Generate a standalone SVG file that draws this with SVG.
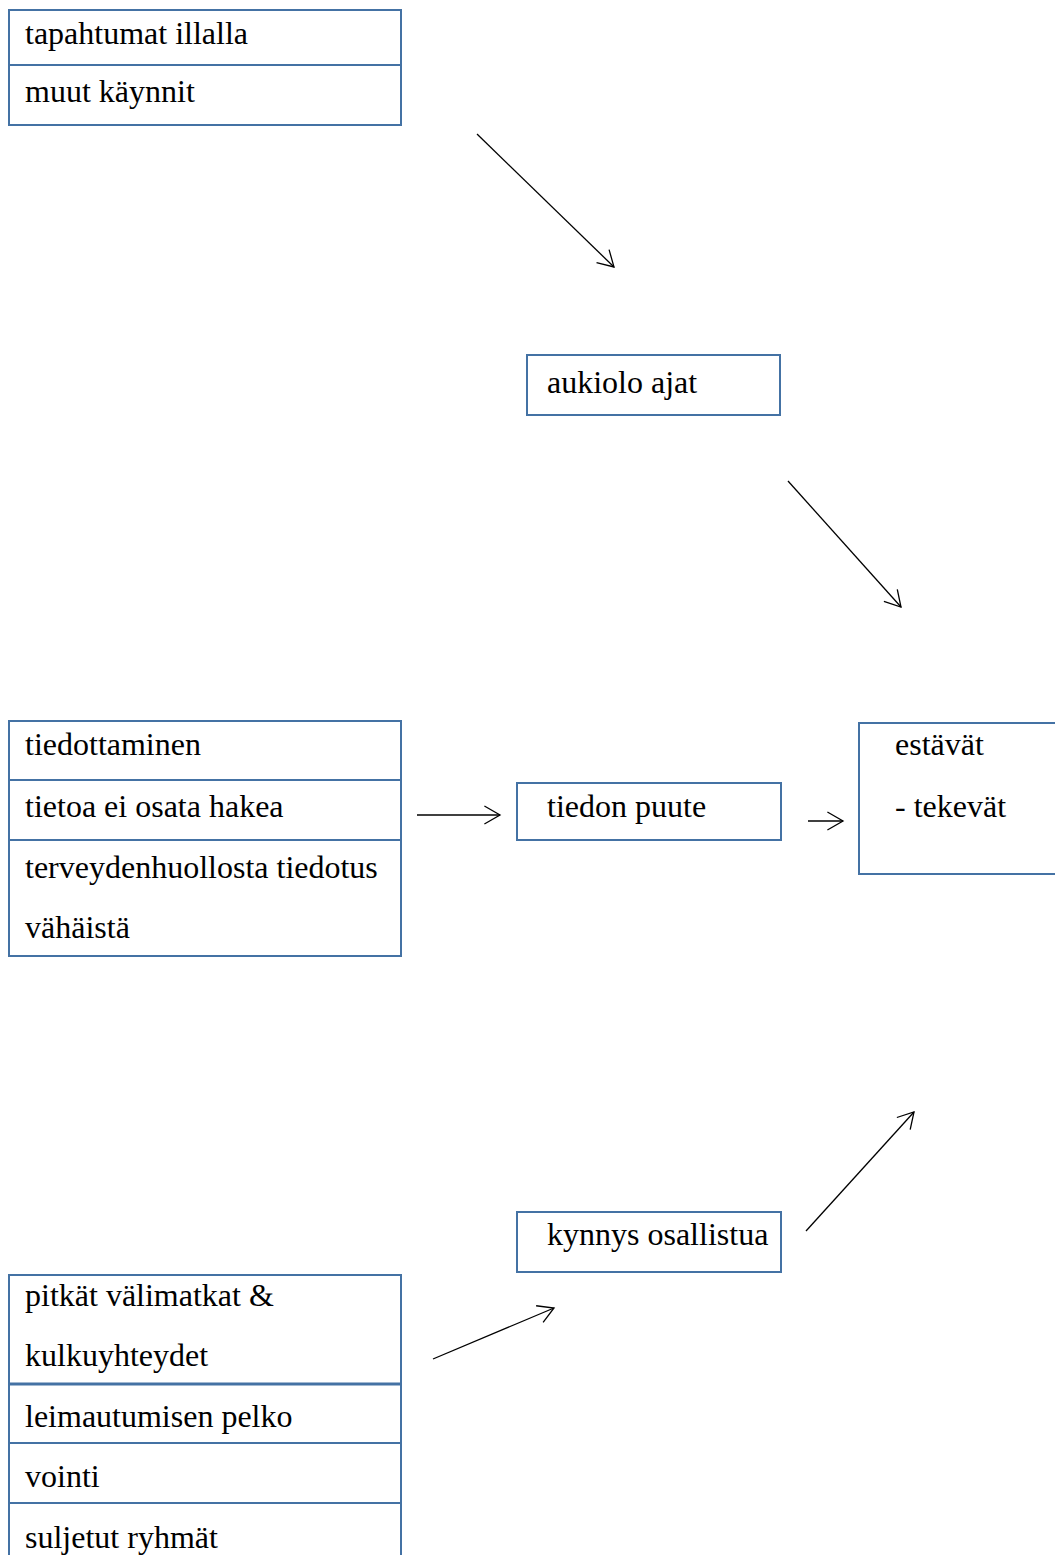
<svg xmlns="http://www.w3.org/2000/svg" width="1055" height="1555" viewBox="0 0 1055 1555">
<style>
.box{fill:#fff;stroke:#4472a4;stroke-width:2}
.div{stroke:#4472a4;stroke-width:2}
.t{font-family:"Liberation Serif","Times New Roman",serif;font-size:32px;fill:#000}
.c{stroke:#000;stroke-width:1.3;fill:none;marker-end:url(#ah)}
</style>
<defs>
<marker id="ah" markerUnits="userSpaceOnUse" viewBox="-18 -10 20 20" refX="0" refY="0" markerWidth="20" markerHeight="20" orient="auto">
<path d="M-15.6,-9 L0,0 L-15.6,9" fill="none" stroke="#000" stroke-width="1.3"/>
</marker>
</defs>
<rect width="1055" height="1555" fill="#fff"/>
<g id="n-top">
<rect class="box" x="9" y="10" width="392" height="115"/>
<line class="div" x1="9" y1="65" x2="401" y2="65"/>
<text class="t" x="25" y="44">tapahtumat illalla</text>
<text class="t" x="25" y="102">muut käynnit</text>
</g>
<g id="n-aukiolo">
<rect class="box" x="527" y="355" width="253" height="60"/>
<text class="t" x="547" y="393">aukiolo ajat</text>
</g>
<g id="n-tiedotus">
<rect class="box" x="9" y="721" width="392" height="235"/>
<line class="div" x1="9" y1="780" x2="401" y2="780"/>
<line class="div" x1="9" y1="840" x2="401" y2="840"/>
<text class="t" x="25" y="755">tiedottaminen</text>
<text class="t" x="25" y="817">tietoa ei osata hakea</text>
<text class="t" x="25" y="878">terveydenhuollosta tiedotus</text>
<text class="t" x="25" y="938">vähäistä</text>
</g>
<g id="n-tiedon-puute">
<rect class="box" x="517" y="783" width="264" height="57"/>
<text class="t" x="547" y="817">tiedon puute</text>
</g>
<g id="n-estavat">
<rect class="box" x="859" y="723" width="210" height="151"/>
<text class="t" x="895" y="755">estävät</text>
<text class="t" x="895" y="817">- tekevät</text>
</g>
<g id="n-kynnys">
<rect class="box" x="517" y="1212" width="264" height="60"/>
<text class="t" x="547" y="1245">kynnys osallistua</text>
</g>
<g id="n-bottom">
<rect class="box" x="9" y="1275" width="392" height="300"/>
<line class="div" x1="9" y1="1384" x2="401" y2="1384" style="stroke-width:3"/>
<line class="div" x1="9" y1="1443" x2="401" y2="1443"/>
<line class="div" x1="9" y1="1503" x2="401" y2="1503"/>
<text class="t" x="25" y="1306">pitkät välimatkat &amp;</text>
<text class="t" x="25" y="1366">kulkuyhteydet</text>
<text class="t" x="25" y="1427">leimautumisen pelko</text>
<text class="t" x="25" y="1487">vointi</text>
<text class="t" x="25" y="1548">suljetut ryhmät</text>
</g>
<g id="connectors">
<line class="c" x1="477" y1="134" x2="614" y2="267"/>
<line class="c" x1="788" y1="481" x2="901" y2="607"/>
<line class="c" x1="417" y1="815" x2="500" y2="815"/>
<line class="c" x1="808" y1="821" x2="843" y2="821"/>
<line class="c" x1="806" y1="1231" x2="914" y2="1112"/>
<line class="c" x1="433" y1="1359" x2="554" y2="1308"/>
</g>
</svg>
